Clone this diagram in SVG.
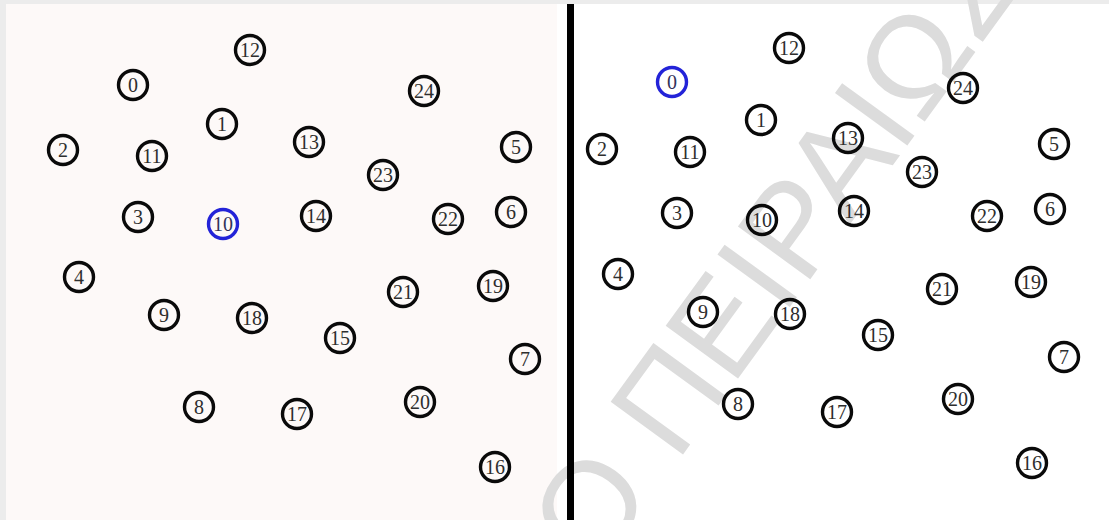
<svg xmlns="http://www.w3.org/2000/svg" width="1109" height="520" viewBox="0 0 1109 520">
<style>
.n circle{fill:none;stroke:#0a0a0a;stroke-width:3.4}
.n text{font-family:"Liberation Serif","Times New Roman",serif;font-size:20px;fill:#2e2e2e;text-anchor:middle;dominant-baseline:central}
.b circle{stroke:#2323d8}
.b text{fill:#33335a}
.wm{font-family:"Liberation Sans",Arial,sans-serif;font-size:130px;fill:#dcdcdc}
</style>
<rect x="0" y="0" width="1109" height="520" fill="#ececec"/>
<rect x="6" y="4" width="551" height="516" fill="#fdf9f8"/>
<rect x="557" y="4" width="552" height="516" fill="#ffffff"/>
<g id="watermark" transform="translate(596,574) rotate(-54)">
<text class="wm" x="0" y="0">Ο ΠΕΙΡΑΙΩΣ</text>
</g>
<g id="connectors">
<line x1="570.5" y1="4" x2="570.5" y2="520" stroke="#000" stroke-width="7"/>
</g>
<g id="left">
<g id="L0" class="n"><circle cx="133" cy="85" r="14.5"/><text x="133" y="85">0</text></g>
<g id="L1" class="n"><circle cx="222" cy="124" r="14.5"/><text x="222" y="124">1</text></g>
<g id="L2" class="n"><circle cx="63" cy="150" r="14.5"/><text x="63" y="150">2</text></g>
<g id="L3" class="n"><circle cx="138" cy="217" r="14.5"/><text x="138" y="217">3</text></g>
<g id="L4" class="n"><circle cx="79" cy="277" r="14.5"/><text x="79" y="277">4</text></g>
<g id="L5" class="n"><circle cx="516" cy="147" r="14.5"/><text x="516" y="147">5</text></g>
<g id="L6" class="n"><circle cx="511" cy="212" r="14.5"/><text x="511" y="212">6</text></g>
<g id="L7" class="n"><circle cx="525" cy="359" r="14.5"/><text x="525" y="359">7</text></g>
<g id="L8" class="n"><circle cx="199" cy="407" r="14.5"/><text x="199" y="407">8</text></g>
<g id="L9" class="n"><circle cx="164" cy="315" r="14.5"/><text x="164" y="315">9</text></g>
<g id="L10" class="n b"><circle cx="223" cy="224" r="14.5"/><text x="223" y="224">10</text></g>
<g id="L11" class="n"><circle cx="152" cy="156" r="14.5"/><text x="152" y="156">11</text></g>
<g id="L12" class="n"><circle cx="250" cy="50" r="14.5"/><text x="250" y="50">12</text></g>
<g id="L13" class="n"><circle cx="309" cy="142" r="14.5"/><text x="309" y="142">13</text></g>
<g id="L14" class="n"><circle cx="316" cy="216" r="14.5"/><text x="316" y="216">14</text></g>
<g id="L15" class="n"><circle cx="340" cy="338" r="14.5"/><text x="340" y="338">15</text></g>
<g id="L16" class="n"><circle cx="495" cy="467" r="14.5"/><text x="495" y="467">16</text></g>
<g id="L17" class="n"><circle cx="297" cy="414" r="14.5"/><text x="297" y="414">17</text></g>
<g id="L18" class="n"><circle cx="252" cy="318" r="14.5"/><text x="252" y="318">18</text></g>
<g id="L19" class="n"><circle cx="493" cy="286" r="14.5"/><text x="493" y="286">19</text></g>
<g id="L20" class="n"><circle cx="420" cy="402" r="14.5"/><text x="420" y="402">20</text></g>
<g id="L21" class="n"><circle cx="403" cy="292" r="14.5"/><text x="403" y="292">21</text></g>
<g id="L22" class="n"><circle cx="448" cy="219" r="14.5"/><text x="448" y="219">22</text></g>
<g id="L23" class="n"><circle cx="383" cy="175" r="14.5"/><text x="383" y="175">23</text></g>
<g id="L24" class="n"><circle cx="424" cy="91" r="14.5"/><text x="424" y="91">24</text></g>
</g>
<g id="right">
<g id="R0" class="n b"><circle cx="672" cy="82" r="14.5"/><text x="672" y="82">0</text></g>
<g id="R1" class="n"><circle cx="761" cy="120" r="14.5"/><text x="761" y="120">1</text></g>
<g id="R2" class="n"><circle cx="602" cy="149" r="14.5"/><text x="602" y="149">2</text></g>
<g id="R3" class="n"><circle cx="677" cy="213" r="14.5"/><text x="677" y="213">3</text></g>
<g id="R4" class="n"><circle cx="618" cy="274" r="14.5"/><text x="618" y="274">4</text></g>
<g id="R5" class="n"><circle cx="1054" cy="144" r="14.5"/><text x="1054" y="144">5</text></g>
<g id="R6" class="n"><circle cx="1050" cy="209" r="14.5"/><text x="1050" y="209">6</text></g>
<g id="R7" class="n"><circle cx="1064" cy="357" r="14.5"/><text x="1064" y="357">7</text></g>
<g id="R8" class="n"><circle cx="738" cy="404" r="14.5"/><text x="738" y="404">8</text></g>
<g id="R9" class="n"><circle cx="703" cy="312" r="14.5"/><text x="703" y="312">9</text></g>
<g id="R10" class="n"><circle cx="762" cy="220" r="14.5"/><text x="762" y="220">10</text></g>
<g id="R11" class="n"><circle cx="690" cy="152" r="14.5"/><text x="690" y="152">11</text></g>
<g id="R12" class="n"><circle cx="789" cy="48" r="14.5"/><text x="789" y="48">12</text></g>
<g id="R13" class="n"><circle cx="848" cy="138" r="14.5"/><text x="848" y="138">13</text></g>
<g id="R14" class="n"><circle cx="854" cy="211" r="14.5"/><text x="854" y="211">14</text></g>
<g id="R15" class="n"><circle cx="878" cy="335" r="14.5"/><text x="878" y="335">15</text></g>
<g id="R16" class="n"><circle cx="1032" cy="463" r="14.5"/><text x="1032" y="463">16</text></g>
<g id="R17" class="n"><circle cx="837" cy="412" r="14.5"/><text x="837" y="412">17</text></g>
<g id="R18" class="n"><circle cx="790" cy="314" r="14.5"/><text x="790" y="314">18</text></g>
<g id="R19" class="n"><circle cx="1031" cy="282" r="14.5"/><text x="1031" y="282">19</text></g>
<g id="R20" class="n"><circle cx="958" cy="399" r="14.5"/><text x="958" y="399">20</text></g>
<g id="R21" class="n"><circle cx="942" cy="289" r="14.5"/><text x="942" y="289">21</text></g>
<g id="R22" class="n"><circle cx="987" cy="216" r="14.5"/><text x="987" y="216">22</text></g>
<g id="R23" class="n"><circle cx="922" cy="172" r="14.5"/><text x="922" y="172">23</text></g>
<g id="R24" class="n"><circle cx="963" cy="88" r="14.5"/><text x="963" y="88">24</text></g>
</g>
</svg>
